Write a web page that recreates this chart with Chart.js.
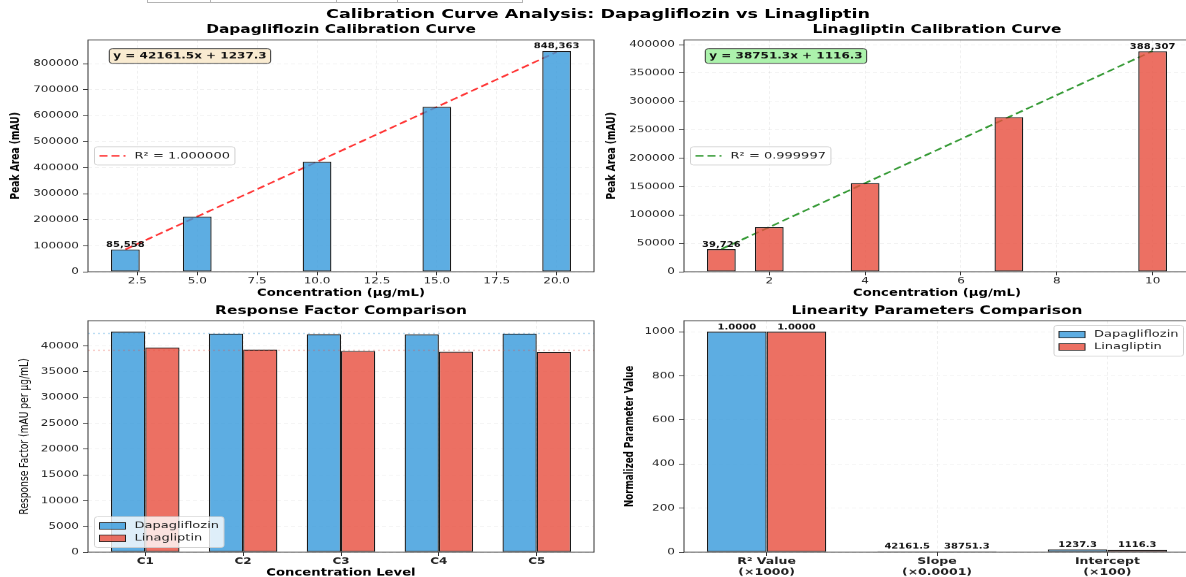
<!DOCTYPE html>
<html>
<head>
<meta charset="utf-8">
<title>Calibration Curve Analysis</title>
<script src="https://cdn.jsdelivr.net/npm/chart.js@4.4.0/dist/chart.umd.min.js"></script>
<style>
  html, body { margin: 0; padding: 0; background: #fff; overflow: hidden; }
  #page { position: relative; width: 1186px; height: 577px; overflow: hidden; }
  /* figure is laid out at 1196x790 and squeezed vertically to the page height */
  #figure { position: absolute; left: 0; top: 0; width: 1196px; height: 790px;
            transform: scaleY(0.7304); transform-origin: 0 0; }
  #figure canvas { position: absolute; left: 0; top: 0; }
  #suptitle { position: absolute; left: 0; top: 8px; width: 1196px; line-height: 20px;
              text-align: center; font: bold 17.6px "DejaVu Sans", sans-serif; color: #000; }
  #edge { position: absolute; left: 147px; top: -18px; border-collapse: collapse; }
  #edge td { border: 1px solid #b4b4b4; height: 19px; padding: 0; }
</style>
</head>
<body>
<div id="page">
  <table id="edge"><tr><td style="width:62px"></td><td style="width:125px"></td><td style="width:60px"></td><td style="width:124px"></td></tr></table>
  <div id="figure">
    <div id="suptitle">Calibration Curve Analysis: Dapagliflozin vs Linagliptin</div>
    <canvas id="dapaCurve" width="1196" height="790" style="width:1196px;height:790px"></canvas>
    <canvas id="linaCurve" width="1196" height="790" style="width:1196px;height:790px"></canvas>
    <canvas id="respFactor" width="1196" height="790" style="width:1196px;height:790px"></canvas>
    <canvas id="linParams" width="1196" height="790" style="width:1196px;height:790px"></canvas>
  </div>
</div>
<script>
// ---- data ----
const dapaConc = [2, 5, 10, 15, 20];
const dapaArea = [85558, 212045, 422852, 633660, 848363];
const linaConc = [1, 2, 4, 7, 10];
const linaArea = [39726, 78619, 156121, 272375, 388307];

const drugs = ['Dapagliflozin', 'Linagliptin'];
const slopes = [42161.5, 38751.3];
const intercepts = [1237.3, 1116.3];
const r2Values = [1.000000, 0.999997];

const levels = ['C1', 'C2', 'C3', 'C4', 'C5'];
const rfDapa = [42779, 42409, 42285, 42244, 42418];
const rfLina = [39726, 39310, 39030, 38911, 38831];

const paramLabels = [['R\u00b2 Value', '(\u00d71000)'], ['Slope', '(\u00d70.0001)'], ['Intercept', '(\u00d7100)']];
const paramScale = [1000, 0.0001, 0.01];

// tick positions
const dapaConcTicks = [2.5, 5, 7.5, 10, 12.5, 15, 17.5, 20];
const linaConcTicks = [2, 4, 6, 8, 10];
const dapaAreaTicks = [0, 100000, 200000, 300000, 400000, 500000, 600000, 700000, 800000];
const linaAreaTicks = [0, 50000, 100000, 150000, 200000, 250000, 300000, 350000, 400000];
const levelTicks = [0, 1, 2, 3, 4];
const rfTicks = [0, 5000, 10000, 15000, 20000, 25000, 30000, 35000, 40000];
const paramTicks = [0, 1, 2];
const normTicks = [0, 200, 400, 600, 800, 1000];

// ---- look ----
const W = 1196, H = 790;
const FONT = '"DejaVu Sans", sans-serif';
const BLUE = 'rgba(52,152,219,0.8)';
const RED = 'rgba(231,76,60,0.8)';
Chart.defaults.font.family = FONT;
Chart.defaults.color = '#222';
Chart.defaults.animation = false;

const gridStyle = { color: 'rgba(0,0,0,0.08)', lineWidth: 0.8, tickColor: '#333', tickLength: 5, tickWidth: 1 };
const setTicks = values => s => { s.ticks = values.map(v => ({ value: v })); };

function xScale(min, max, ticks, fmt, title, tickFont, xh) {
  return {
    type: 'linear', min: min, max: max, offset: false,
    afterBuildTicks: setTicks(ticks),
    afterFit: s => { s.height = xh; },
    grid: Object.assign({ offset: false }, gridStyle),
    border: { display: false, dash: [4, 3] },
    ticks: { callback: fmt, font: tickFont, padding: 1, maxRotation: 0, autoSkip: false },
    title: title ? { display: true, text: title, color: '#000', padding: 0,
                     font: { size: 13.2, weight: 'bold' } } : { display: false }
  };
}

function yScale(max, ticks, title, titleFont, yw) {
  return {
    type: 'linear', min: 0, max: max,
    afterBuildTicks: setTicks(ticks),
    afterFit: s => { s.width = yw; },
    grid: gridStyle,
    border: { display: false, dash: [4, 3] },
    ticks: { callback: v => String(v), font: { size: 12 }, padding: 4, autoSkip: false },
    title: { display: true, text: title, color: '#000', padding: 0, font: titleFont }
  };
}

function roundRect(ctx, x, y, w, h, r) {
  ctx.beginPath();
  ctx.moveTo(x + r, y);
  ctx.arcTo(x + w, y, x + w, y + h, r);
  ctx.arcTo(x + w, y + h, x, y + h, r);
  ctx.arcTo(x, y + h, x, y, r);
  ctx.arcTo(x, y, x + w, y, r);
  ctx.closePath();
}

function drawLegend(ctx, a, items, where) {
  ctx.font = '13px ' + FONT;
  const pad = 5, handle = 26, gap = 9, rowH = 17;
  const tw = Math.max(...items.map(it => ctx.measureText(it.label).width));
  const w = pad * 2 + handle + gap + tw;
  const h = pad * 2 + rowH * items.length - 2;
  let x, y;
  if (where === 'center left') { x = a.left + 6.5; y = (a.top + a.bottom) / 2 - h / 2; }
  else if (where === 'lower left') { x = a.left + 6.5; y = a.bottom - 6.5 - h; }
  else { x = a.right - 6.5 - w; y = a.top + 6.5; }
  roundRect(ctx, x, y, w, h, 3);
  ctx.fillStyle = 'rgba(255,255,255,0.8)';
  ctx.fill();
  ctx.strokeStyle = '#d0d0d0';
  ctx.lineWidth = 1;
  ctx.stroke();
  items.forEach((it, i) => {
    const cy = y + pad + rowH * i + rowH / 2 - 1;
    const hx = x + pad;
    if (it.dash) {
      ctx.strokeStyle = it.color;
      ctx.lineWidth = 2.2;
      ctx.setLineDash(it.dash);
      ctx.beginPath(); ctx.moveTo(hx, cy); ctx.lineTo(hx + handle, cy); ctx.stroke();
      ctx.setLineDash([]);
    } else {
      ctx.fillStyle = it.color;
      ctx.fillRect(hx, cy - 4.5, handle, 9);
      ctx.strokeStyle = '#222';
      ctx.lineWidth = 1;
      ctx.strokeRect(hx, cy - 4.5, handle, 9);
    }
    ctx.fillStyle = '#222';
    ctx.textAlign = 'left';
    ctx.textBaseline = 'middle';
    ctx.fillText(it.label, hx + handle + gap, cy);
  });
}

function drawEquation(ctx, a, text, bg) {
  ctx.font = 'bold 12px ' + FONT;
  const tw = ctx.measureText(text).width;
  const x = a.left + 0.05 * a.width;
  const top = a.top + 0.05 * a.height;
  const pad = 4;
  roundRect(ctx, x - pad, top - pad, tw + pad * 2, 12 + pad * 2, 3);
  ctx.fillStyle = bg;
  ctx.fill();
  ctx.strokeStyle = '#333';
  ctx.lineWidth = 1;
  ctx.stroke();
  ctx.fillStyle = '#111';
  ctx.textAlign = 'left';
  ctx.textBaseline = 'middle';
  ctx.fillText(text, x, top + 6);
}

// frame, subplot title, value labels, equation box, legend and reference lines
function decor(d) {
  return {
    id: 'decor',
    afterDatasetsDraw(chart) {
      const ctx = chart.ctx, a = chart.chartArea;
      ctx.save();
      (d.hlines || []).forEach(h => {
        const y = chart.scales.y.getPixelForValue(h.value);
        ctx.strokeStyle = h.color;
        ctx.lineWidth = 1.5;
        ctx.setLineDash([2, 3]);
        ctx.beginPath(); ctx.moveTo(a.left, y); ctx.lineTo(a.right, y); ctx.stroke();
      });
      ctx.setLineDash([]);
      ctx.strokeStyle = '#333';
      ctx.lineWidth = 1;
      ctx.strokeRect(a.left, a.top, a.width, a.height);

      ctx.fillStyle = '#000';
      ctx.font = 'bold 15.4px ' + FONT;
      ctx.textAlign = 'center';
      ctx.textBaseline = 'middle';
      ctx.fillText(d.title, (a.left + a.right) / 2, a.top - 13.5);

      ctx.font = 'bold 10px ' + FONT;
      ctx.textBaseline = 'bottom';
      (d.labels || []).forEach(l => {
        const el = chart.getDatasetMeta(l.ds).data[l.i];
        ctx.fillStyle = '#111';
        ctx.fillText(l.text, el.x, el.y - 1);
      });
      if (d.equation) drawEquation(ctx, a, d.equation.text, d.equation.bg);
      if (d.legend) drawLegend(ctx, a, d.legend.items, d.legend.where);
      ctx.restore();
    }
  };
}

function makeChart(id, box, yw, xh, config, deco) {
  config.options.responsive = false;
  config.options.layout = { padding: { left: box[0] - yw, top: box[1], right: W - box[2], bottom: H - box[3] - xh } };
  config.options.plugins = { legend: { display: false }, tooltip: { enabled: false } };
  config.plugins = [decor(deco)];
  return new Chart(document.getElementById(id), config);
}

// ---- calibration curves ----
function curveChart(id, box, conc, area, k, color, lineColor, xmin, xmax, xticks, fmt, ymax, yticks, barPct, bg) {
  const fit = conc.map(c => ({ x: c, y: slopes[k] * c + intercepts[k] }));
  const last = conc.length - 1;
  makeChart(id, box, 80, 37.5, {
    type: 'bar',
    data: {
      datasets: [
        { type: 'bar', data: conc.map((c, i) => ({ x: c, y: area[i] })),
          backgroundColor: color, borderColor: '#1a1a1a', borderWidth: 1.3, borderSkipped: false,
          barPercentage: barPct, categoryPercentage: 1 },
        { type: 'line', data: fit, borderColor: lineColor, borderWidth: 2.2,
          borderDash: [8, 4], pointRadius: 0, fill: false }
      ]
    },
    options: {
      scales: {
        x: xScale(xmin, xmax, xticks, fmt, 'Concentration (\u00b5g/mL)', { size: 12 }, 37.5),
        y: yScale(ymax, yticks, 'Peak Area (mAU)', { size: 12.5, weight: 'bold' }, 80)
      }
    }
  }, {
    title: drugs[k] + ' Calibration Curve',
    labels: [0, last].map(i => ({ ds: 0, i: i, text: area[i].toLocaleString('en-US') })),
    equation: { text: 'y = ' + slopes[k].toFixed(1) + 'x + ' + intercepts[k].toFixed(1), bg: bg },
    legend: { where: 'center left',
              items: [{ label: 'R\u00b2 = ' + r2Values[k].toFixed(6), color: lineColor, dash: [8, 4] }] }
  });
}

curveChart('dapaCurve', [88, 54.8, 594, 372], dapaConc, dapaArea, 0, BLUE, 'rgba(255,0,0,0.8)',
           0.44, 21.56, dapaConcTicks, v => v.toFixed(1), 890781, dapaAreaTicks, 0.48, 'rgba(245,222,179,0.6)');
curveChart('linaCurve', [684, 54.8, 1190, 372], linaConc, linaArea, 1, RED, 'rgba(0,128,0,0.8)',
           0.22, 10.78, linaConcTicks, v => String(v), 408060, linaAreaTicks, 0.6, 'rgba(144,238,144,0.75)');

// ---- response factors ----
const mean = arr => arr.reduce((s, v) => s + v, 0) / arr.length;
makeChart('respFactor', [88, 439, 594, 756], 71, 36, {
  type: 'bar',
  data: {
    datasets: [
      { data: rfDapa.map((v, i) => ({ x: i, y: v })), backgroundColor: BLUE, borderColor: '#1a1a1a',
        borderWidth: 1.3, borderSkipped: false, categoryPercentage: 0.7, barPercentage: 1 },
      { data: rfLina.map((v, i) => ({ x: i, y: v })), backgroundColor: RED, borderColor: '#1a1a1a',
        borderWidth: 1.3, borderSkipped: false, categoryPercentage: 0.7, barPercentage: 1 }
    ]
  },
  options: {
    scales: {
      x: xScale(-0.585, 4.585, levelTicks, v => levels[v], 'Concentration Level', { size: 12, weight: 'bold' }, 36),
      y: yScale(44918, rfTicks, 'Response Factor (mAU per \u00b5g/mL)', { size: 12.5 }, 71)
    }
  }
}, {
  title: 'Response Factor Comparison',
  hlines: [{ value: mean(rfDapa), color: 'rgba(52,152,219,0.35)' }, { value: mean(rfLina), color: 'rgba(231,76,60,0.35)' }],
  legend: { where: 'lower left', items: [{ label: drugs[0], color: BLUE }, { label: drugs[1], color: RED }] }
});

// ---- linearity parameters ----
const dapaParams = [r2Values[0], slopes[0], intercepts[0]];
const linaParams = [r2Values[1], slopes[1], intercepts[1]];
const paramText = (v, j) => (j === 0 ? v.toFixed(4) : v.toFixed(1));
makeChart('linParams', [684, 439, 1190, 756], 61.5, 36, {
  type: 'bar',
  data: {
    datasets: [
      { data: dapaParams.map((v, j) => ({ x: j, y: v * paramScale[j] })), backgroundColor: BLUE,
        borderColor: '#1a1a1a', borderWidth: 1.3, borderSkipped: false, categoryPercentage: 0.7, barPercentage: 1 },
      { data: linaParams.map((v, j) => ({ x: j, y: v * paramScale[j] })), backgroundColor: RED,
        borderColor: '#1a1a1a', borderWidth: 1.3, borderSkipped: false, categoryPercentage: 0.7, barPercentage: 1 }
    ]
  },
  options: {
    scales: {
      x: xScale(-0.485, 2.485, paramTicks, v => paramLabels[v], null, { size: 12.5, weight: 'bold', lineHeight: 1.15 }, 36),
      y: yScale(1050, normTicks, 'Normalized Parameter Value', { size: 12, weight: 'bold' }, 61.5)
    }
  }
}, {
  title: 'Linearity Parameters Comparison',
  labels: dapaParams.map((v, j) => ({ ds: 0, i: j, text: paramText(v, j) }))
    .concat(linaParams.map((v, j) => ({ ds: 1, i: j, text: paramText(v, j) }))),
  legend: { where: 'upper right', items: [{ label: drugs[0], color: BLUE }, { label: drugs[1], color: RED }] }
});
</script>
</body>
</html>
